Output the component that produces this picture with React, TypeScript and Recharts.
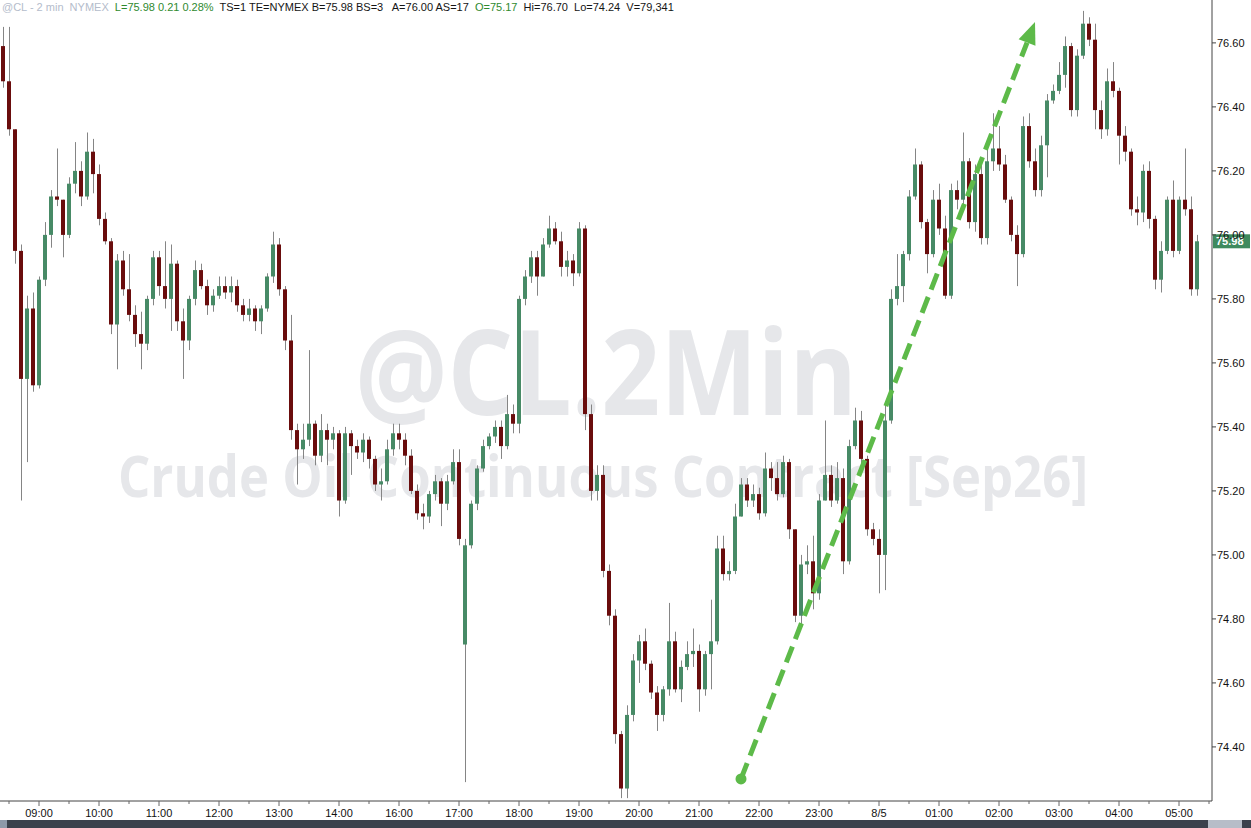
import React from "react";
import { ComposedChart, Bar, XAxis, YAxis, ReferenceLine } from "recharts";

// 6-minute candles, two sessions (08:24-14:54, 16:00-05:30)
const SESSIONS: [string, number][] = [
  ["08:24", 66],
  ["16:00", 136],
];

const opens = [
  76.59, 76.48, 76.33, 75.95, 75.55, 75.77, 75.53, 75.86, 76.0, 76.12,
  76.11, 76.0, 76.16, 76.2, 76.12, 76.26, 76.19, 76.05, 75.98, 75.72,
  75.92, 75.83, 75.75, 75.69, 75.66, 75.8, 75.93, 75.84, 75.8, 75.91,
  75.73, 75.67, 75.8, 75.89, 75.84, 75.78, 75.81, 75.84, 75.82, 75.84,
  75.78, 75.75, 75.77, 75.73, 75.77, 75.87, 75.97, 75.83, 75.67, 75.39,
  75.33, 75.36, 75.41, 75.31, 75.39, 75.36, 75.38, 75.17, 75.38, 75.34,
  75.32, 75.36, 75.3, 75.22, 75.23, 75.33, 75.38, 75.36, 75.31, 75.2,
  75.13, 75.12, 75.19, 75.23, 75.16, 75.23, 75.29, 74.72, 75.03, 75.16,
  75.27, 75.34, 75.37, 75.4, 75.34, 75.44, 75.41, 75.8, 75.87, 75.93,
  75.87, 75.97, 76.02, 75.98, 75.9, 75.92, 75.88, 76.02, 75.44, 75.2,
  75.25, 74.95, 74.81, 74.44, 74.27, 74.5, 74.67, 74.73, 74.66, 74.57,
  74.5, 74.58, 74.73, 74.58, 74.65, 74.69, 74.7, 74.58, 74.69, 74.73,
  75.02, 74.94, 74.95, 75.12, 75.22, 75.17, 75.19, 75.13, 75.27, 75.24,
  75.19, 75.29, 75.08, 74.81, 74.97, 74.98, 74.88, 75.17, 75.25, 75.17,
  75.24, 74.98, 75.34, 75.42, 75.3, 75.08, 75.05, 75.0, 75.42, 75.8,
  75.84, 75.94, 76.12, 76.22, 76.04, 75.94, 76.11, 76.02, 75.81, 76.14,
  76.11, 76.23, 76.04, 76.19, 75.99, 76.23, 76.27, 76.22, 76.11, 76.0,
  75.94, 76.34, 76.23, 76.14, 76.28, 76.42, 76.45, 76.5, 76.59, 76.39,
  76.56, 76.66, 76.61, 76.39, 76.33, 76.48, 76.45, 76.31, 76.26, 76.08,
  76.07, 76.2, 76.05, 75.86, 75.95, 76.11, 75.95, 76.11, 76.08, 75.83,
];

const highs = [
  76.65, 76.65, 76.33, 75.97, 75.81, 75.82, 75.87, 76.04, 76.14, 76.27,
  76.11, 76.18, 76.29, 76.23, 76.32, 76.3, 76.22, 76.07, 75.99, 75.94,
  75.95, 75.94, 75.78, 75.76, 75.81, 75.95, 75.95, 75.98, 75.97, 75.92,
  75.77, 75.81, 75.92, 75.91, 75.86, 75.83, 75.87, 75.87, 75.87, 75.86,
  75.8, 75.8, 75.78, 75.78, 75.88, 76.01, 75.99, 75.84, 75.75, 75.41,
  75.41, 75.64, 75.42, 75.44, 75.41, 75.4, 75.39, 75.4, 75.39, 75.36,
  75.38, 75.37, 75.31, 75.27, 75.36, 75.41, 75.41, 75.38, 75.33, 75.22,
  75.16, 75.2, 75.25, 75.24, 75.25, 75.33, 75.33, 75.05, 75.17, 75.28,
  75.36, 75.38, 75.42, 75.42, 75.5, 75.47, 75.81, 75.89, 75.95, 75.95,
  75.99, 76.06, 76.04, 76.01, 75.95, 75.94, 76.04, 76.03, 75.47, 75.28,
  75.28, 74.97, 74.83, 74.45, 74.53, 74.69, 74.75, 74.77, 74.67, 74.59,
  74.59, 74.85, 74.76, 74.67, 74.73, 74.77, 74.72, 74.7, 74.86, 75.06,
  75.06, 74.98, 75.16, 75.24, 75.24, 75.22, 75.21, 75.32, 75.29, 75.29,
  75.31, 75.3, 75.08, 75.0, 75.03, 75.06, 75.19, 75.42, 75.28, 75.29,
  75.27, 75.36, 75.46, 75.45, 75.31, 75.1, 75.08, 75.48, 75.83, 75.94,
  75.95, 76.14, 76.27, 76.23, 76.05, 76.14, 76.16, 76.06, 76.16, 76.17,
  76.32, 76.24, 76.22, 76.22, 76.27, 76.38, 76.34, 76.25, 76.12, 76.03,
  76.37, 76.38, 76.27, 76.31, 76.44, 76.47, 76.54, 76.62, 76.6, 76.58,
  76.7, 76.68, 76.66, 76.42, 76.52, 76.54, 76.46, 76.34, 76.27, 76.12,
  76.22, 76.23, 76.06, 75.98, 76.12, 76.17, 76.12, 76.27, 76.12, 76.0,
];

const lows = [
  76.46, 76.31, 75.91, 75.17, 75.29, 75.51, 75.52, 75.84, 75.96, 76.09,
  75.93, 75.99, 76.13, 76.09, 76.11, 76.13, 76.03, 75.97, 75.69, 75.58,
  75.81, 75.73, 75.65, 75.58, 75.64, 75.78, 75.81, 75.77, 75.7, 75.7,
  75.55, 75.64, 75.78, 75.83, 75.75, 75.76, 75.8, 75.8, 75.79, 75.76,
  75.73, 75.73, 75.7, 75.69, 75.76, 75.85, 75.81, 75.64, 75.36, 75.22,
  75.3, 75.34, 75.28, 75.29, 75.28, 75.33, 75.12, 75.16, 75.25, 75.3,
  75.29, 75.27, 75.2, 75.17, 75.22, 75.31, 75.33, 75.28, 75.19, 75.11,
  75.08, 75.1, 75.17, 75.09, 75.14, 75.22, 75.03, 74.29, 75.02, 75.14,
  75.26, 75.33, 75.35, 75.3, 75.33, 75.38, 75.38, 75.78, 75.85, 75.81,
  75.87, 75.96, 75.97, 75.87, 75.87, 75.84, 75.87, 75.39, 75.17, 75.17,
  74.93, 74.78, 74.41, 74.24, 74.24, 74.48, 74.6, 74.64, 74.55, 74.45,
  74.48, 74.56, 74.57, 74.54, 74.64, 74.65, 74.51, 74.56, 74.58, 74.72,
  74.92, 74.92, 74.94, 75.12, 75.15, 75.15, 75.11, 75.12, 75.2, 75.17,
  75.18, 75.05, 74.79, 74.77, 74.94, 74.83, 74.86, 75.17, 75.15, 75.16,
  74.94, 74.97, 75.33, 75.27, 75.06, 75.03, 74.88, 74.89, 75.41, 75.78,
  75.79, 75.92, 76.11, 76.02, 75.88, 75.93, 76.0, 75.8, 75.8, 76.08,
  76.09, 76.02, 76.01, 75.97, 75.97, 76.2, 76.2, 76.1, 75.98, 75.84,
  75.93, 76.21, 76.12, 76.12, 76.18, 76.41, 76.44, 76.46, 76.37, 76.37,
  76.55, 76.59, 76.33, 76.3, 76.31, 76.43, 76.22, 76.23, 76.06, 76.03,
  76.04, 76.02, 75.83, 75.82, 75.94, 75.93, 75.94, 76.06, 75.81, 75.81,
];

const closes = [
  76.48, 76.33, 75.95, 75.55, 75.77, 75.53, 75.86, 76.0, 76.12, 76.11,
  76.0, 76.16, 76.2, 76.12, 76.26, 76.19, 76.05, 75.98, 75.72, 75.92,
  75.83, 75.75, 75.69, 75.66, 75.8, 75.93, 75.84, 75.8, 75.91, 75.73,
  75.67, 75.8, 75.89, 75.84, 75.78, 75.81, 75.84, 75.82, 75.84, 75.78,
  75.75, 75.77, 75.73, 75.77, 75.87, 75.97, 75.83, 75.67, 75.39, 75.33,
  75.36, 75.41, 75.31, 75.39, 75.36, 75.38, 75.17, 75.38, 75.34, 75.32,
  75.36, 75.3, 75.22, 75.23, 75.33, 75.38, 75.36, 75.31, 75.2, 75.13,
  75.12, 75.19, 75.23, 75.16, 75.23, 75.29, 75.05, 75.03, 75.16, 75.27,
  75.34, 75.37, 75.4, 75.34, 75.44, 75.41, 75.8, 75.87, 75.93, 75.87,
  75.97, 76.02, 75.98, 75.9, 75.92, 75.88, 76.02, 75.44, 75.2, 75.25,
  74.95, 74.81, 74.44, 74.27, 74.5, 74.67, 74.73, 74.66, 74.57, 74.5,
  74.58, 74.73, 74.58, 74.65, 74.69, 74.7, 74.58, 74.69, 74.73, 75.02,
  74.94, 74.95, 75.12, 75.22, 75.17, 75.19, 75.13, 75.27, 75.24, 75.19,
  75.29, 75.08, 74.81, 74.97, 74.98, 74.88, 75.17, 75.25, 75.17, 75.24,
  74.98, 75.34, 75.42, 75.3, 75.08, 75.05, 75.0, 75.42, 75.8, 75.84,
  75.94, 76.12, 76.22, 76.04, 75.94, 76.11, 76.02, 75.81, 76.14, 76.11,
  76.23, 76.04, 76.19, 75.99, 76.23, 76.27, 76.22, 76.11, 76.0, 75.94,
  76.34, 76.23, 76.14, 76.28, 76.42, 76.45, 76.5, 76.59, 76.39, 76.56,
  76.66, 76.61, 76.39, 76.33, 76.48, 76.45, 76.31, 76.26, 76.08, 76.07,
  76.2, 76.05, 75.86, 75.95, 76.11, 75.95, 76.11, 76.08, 75.83, 75.98,
];

const yTicks = [74.4, 74.6, 74.8, 75.0, 75.2, 75.4, 75.6, 75.8, 76.0, 76.2, 76.4, 76.6];
const Y_DOMAIN: [number, number] = [74.231, 76.734];
const hourLabels: Record<string, string> = { "00:00": "8/5" };

const lastPrice = 75.98;
const trendFrom = { x: "21:42", y: 74.3 };
const trendTo = { x: "02:36", y: 76.665 };

const UP = "#478a66";
const DOWN = "#6a0d0d";
const WICK = "#858585";
const ARROW = "#5dba49";
const FONT = "'Liberation Sans', Arial, sans-serif";

function buildTimes() {
  const out: string[] = [];
  for (const [start, count] of SESSIONS) {
    let [h, m] = start.split(":").map(Number);
    for (let k = 0; k < count; k++) {
      out.push(`${String(h).padStart(2, "0")}:${String(m).padStart(2, "0")}`);
      m += 6;
      if (m >= 60) {
        m -= 60;
        h = (h + 1) % 24;
      }
    }
  }
  return out;
}

const times = buildTimes();
const rows = times.map((t, i) =>
  i < closes.length
    ? { t, o: opens[i], h: highs[i], l: lows[i], c: closes[i], range: [lows[i], highs[i]] }
    : { t, range: null }
);
const tickCats = times.filter((t) => t.endsWith(":00") || t.endsWith(":30"));

function Candle(props: any) {
  const { x, y, width, height, payload } = props;
  if (!payload || payload.o == null) return null;
  const { o, h, l, c } = payload;
  const span = h - l;
  const py = (v: number) => (span > 0 ? y + ((h - v) / span) * height : y);
  const top = py(Math.max(o, c));
  const bot = py(Math.min(o, c));
  const left = Math.round(x + (width - 4) / 2);
  return (
    <g>
      <rect x={left + 2} y={y} width={1} height={Math.max(1, height)} fill={WICK} />
      <rect x={left} y={top} width={4} height={Math.max(1.5, bot - top)} fill={c >= o ? UP : DOWN} />
    </g>
  );
}

function TimeTick(props: any) {
  const { x, y, payload } = props;
  const v: string = payload.value;
  const major = v.endsWith(":00");
  return (
    <g>
      <line x1={x} x2={x} y1={y} y2={y + (major ? 5 : 3)} stroke="#666" />
      {major && (
        <text x={x} y={y + 16} textAnchor="middle" fontSize={11} fill="#111" fontFamily={FONT}>
          {hourLabels[v] ?? v}
        </text>
      )}
    </g>
  );
}

function PriceTag(props: any) {
  const vb = props.viewBox;
  if (!vb) return null;
  const x = vb.x + vb.width;
  const y = vb.y;
  return (
    <g>
      <rect x={x + 1} y={y - 7} width={37} height={14} fill="#3f8a5e" />
      <text x={x + 4} y={y + 4} fontSize={11} fontWeight="bold" fill="#fff" fontFamily={FONT}>
        {lastPrice.toFixed(2)}
      </text>
    </g>
  );
}

function TrendArrow(props: any) {
  const { x1, y1, x2, y2 } = props;
  if ([x1, y1, x2, y2].some((v) => typeof v !== "number" || Number.isNaN(v))) return null;
  const dx = x2 - x1;
  const dy = y2 - y1;
  const len = Math.hypot(dx, dy);
  const ux = dx / len;
  const uy = dy / len;
  const head = 22;
  const half = 9;
  const bx = x2 - ux * head;
  const by = y2 - uy * head;
  const px = -uy;
  const pyy = ux;
  return (
    <g>
      <circle cx={x1} cy={y1} r={5.5} fill={ARROW} />
      <line x1={x1} y1={y1} x2={bx} y2={by} stroke={ARROW} strokeWidth={5} strokeDasharray="17 8" />
      <polygon
        points={`${x2},${y2} ${bx + px * half},${by + pyy * half} ${bx - px * half},${by - pyy * half}`}
        fill={ARROW}
      />
    </g>
  );
}

function Header() {
  const green = "#2f8a2f";
  const dark = "#151515";
  return (
    <div
      style={{
        position: "absolute",
        left: 2,
        top: 0,
        fontFamily: FONT,
        fontSize: 11,
        lineHeight: "14px",
        whiteSpace: "pre",
        zIndex: 3,
      }}
    >
      <span style={{ color: "#b4bccb" }}>@CL - 2 min  NYMEX  </span>
      <span style={{ color: green }}>L=75.98 0.21 0.28%  </span>
      <span style={{ color: dark }}>TS=1 TE=NYMEX B=75.98 BS=3   A=76.00 AS=17  </span>
      <span style={{ color: green }}>O=75.17  </span>
      <span style={{ color: dark }}>Hi=76.70  Lo=74.24  V=79,341</span>
    </div>
  );
}

function Watermark() {
  return (
    <svg width={1251} height={820} style={{ position: "absolute", left: 0, top: 0, zIndex: 0 }}>
      <text
        x={355}
        y={415}
        fontSize={118}
        fontWeight="bold"
        fontFamily="'Open Sans', sans-serif"
        fill="#e6e7ea"
        textLength={502}
        lengthAdjust="spacingAndGlyphs"
      >
        @CL.2Min
      </text>
      <text
        x={118}
        y={497}
        fontSize={58}
        fontWeight="bold"
        fontFamily="'Open Sans', sans-serif"
        fill="#e6e7ea"
        textLength={970}
        lengthAdjust="spacingAndGlyphs"
      >
        Crude Oil Continuous Contract [Sep26]
      </text>
    </svg>
  );
}

export default function App() {
  return (
    <div style={{ position: "absolute", left: 0, top: 0, width: 1251, height: 828, background: "#fff", overflow: "hidden" }}>
      <Watermark />
      <div style={{ position: "absolute", left: 0, top: 0, zIndex: 1 }}>
        <ComposedChart
          width={1251}
          height={820}
          data={rows}
          margin={{ top: 0, right: 0, bottom: 0, left: 0 }}
          barCategoryGap={0}
          barGap={0}
        >
          <XAxis
            dataKey="t"
            type="category"
            ticks={tickCats}
            interval={0}
            height={19}
            tickSize={0}
            tickMargin={0}
            tickLine={false}
            axisLine={{ stroke: "#444" }}
            tick={<TimeTick />}
          />
          <YAxis
            orientation="right"
            width={39}
            domain={Y_DOMAIN}
            allowDataOverflow
            ticks={yTicks}
            tickSize={4}
            tickMargin={1}
            tickFormatter={(v: number) => v.toFixed(2)}
            axisLine={{ stroke: "#444" }}
            tickLine={{ stroke: "#444" }}
            tick={{ fontSize: 11, fill: "#111", fontFamily: FONT }}
          />
          <Bar dataKey="range" shape={(p: any) => <Candle {...p} />} isAnimationActive={false} />
          <ReferenceLine y={lastPrice} stroke="none" ifOverflow="visible" label={(p: any) => <PriceTag {...p} />} />
          <ReferenceLine
            segment={[trendFrom, trendTo]}
            ifOverflow="visible"
            shape={(p: any) => <TrendArrow {...p} />}
          />
        </ComposedChart>
      </div>
      <Header />
      <div style={{ position: "absolute", left: 0, top: 820, width: 1251, height: 8, background: "#3b414c" }} />
      <div style={{ position: "absolute", left: 0, top: 820, width: 7, height: 8, background: "#8e99a9" }} />
      <div style={{ position: "absolute", left: 1208, top: 820, width: 34, height: 8, background: "#b7bdc8" }} />
    </div>
  );
}
